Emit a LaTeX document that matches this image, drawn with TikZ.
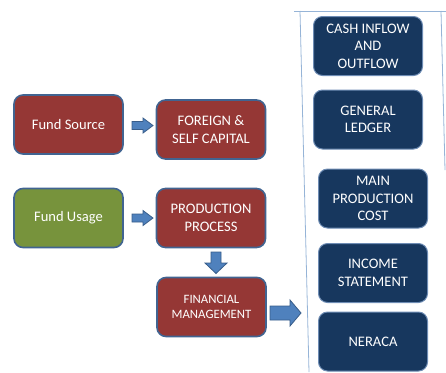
\documentclass[tikz,border=0pt]{standalone}
\usepackage{fontspec}
\setmainfont{Carlito}
\definecolor{redf}{RGB}{149,55,53}
\definecolor{greenf}{RGB}{119,147,60}
\definecolor{navyf}{RGB}{23,55,94}
\definecolor{bord}{RGB}{65,100,145}
\definecolor{navybord}{RGB}{110,140,180}
\definecolor{arrf}{RGB}{79,129,189}
\definecolor{arrb}{RGB}{56,93,138}
\definecolor{lineb}{RGB}{150,180,215}
\begin{document}
\begin{tikzpicture}[x=1bp,y=-1bp,
  box/.style={draw=bord, line width=1.6bp, rounded corners=9bp,
    minimum width=109bp, minimum height=59bp, inner sep=0pt,
    align=center, text=white, font=\fontsize{14.6}{17.5}\selectfont},
  redbox/.style={box, fill=redf},
  greenbox/.style={box, fill=greenf},
  navybox/.style={box, fill=navyf, draw=navybord, line width=1bp},
  blockarrow/.style={draw=arrb, fill=arrf, line width=0.8bp, line join=miter},
  bracketline/.style={draw=lineb, line width=0.8bp}
]
\useasboundingbox (0,0) rectangle (446,372);
% left column
\node[redbox] (src) at (68.5,124.5) {Fund Source};
\node[greenbox] (usage) at (68.5,218) {Fund Usage};
% middle column
\node[redbox] (foreign) at (211,129.5) {FOREIGN \&\\SELF CAPITAL};
\node[redbox] (prod) at (211,218) {PRODUCTION\\PROCESS};
\node[redbox, font=\fontsize{12.8}{15}\selectfont] (fin) at (211.5,307) {FINANCIAL\\MANAGEMENT};
% right column
\node[navybox] (cash) at (368,46) {CASH INFLOW\\AND\\OUTFLOW};
\node[navybox] (ledger) at (368,119.5) {GENERAL\\LEDGER};
\node[navybox] (cost) at (373,198.5) {MAIN\\PRODUCTION\\COST};
\node[navybox] (income) at (373,273) {INCOME\\STATEMENT};
\node[navybox] (neraca) at (373,341.5) {NERACA};
% block arrows
\path[blockarrow] (132,121.5) -- (143,121.5) -- (143,118) -- (153,125.5)
  -- (143,133) -- (143,129.5) -- (132,129.5) -- cycle;
\path[blockarrow] (132,214) -- (143,214) -- (143,210.5) -- (153,218)
  -- (143,225.5) -- (143,222) -- (132,222) -- cycle;
\path[blockarrow] (211,252) -- (221,252) -- (221,263) -- (227,263)
  -- (216,273.5) -- (205,263) -- (211,263) -- cycle;
\path[blockarrow] (270,306) -- (290,306) -- (290,300) -- (301,313)
  -- (290,326) -- (290,320) -- (270,320) -- cycle;
% bracket
\coordinate (bl) at (294,11);
\coordinate (br) at (446,11);
\coordinate (lt) at (300,11);
\coordinate (lb) at (309,372);
\coordinate (rt) at (441,11);
\coordinate (rb) at (445,170);
\draw[bracketline] (bl) -- (br);
\draw[bracketline] (lt) -- (lb);
\draw[bracketline] (rt) -- (rb);
\end{tikzpicture}
\end{document}
